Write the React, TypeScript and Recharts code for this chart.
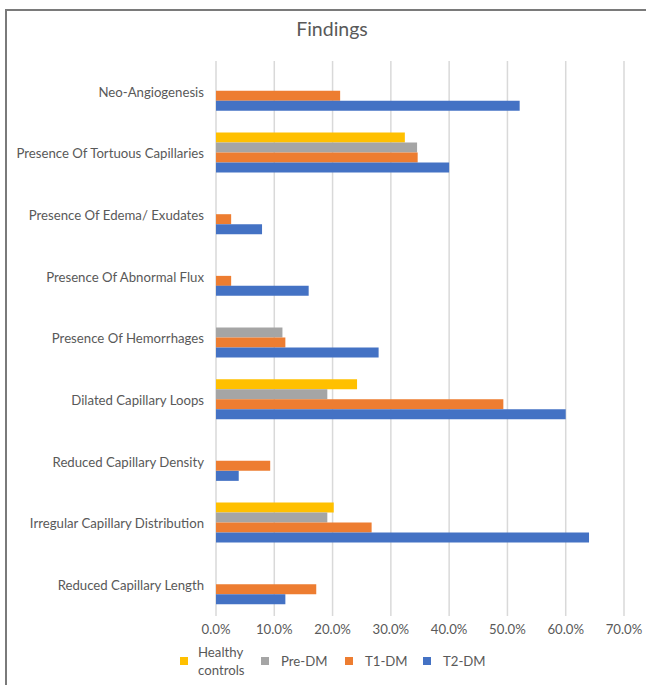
import React from "react";
import { BarChart, Bar, XAxis, YAxis, CartesianGrid } from "recharts";

// Capillaroscopy findings, share of each group (%)
const categories = [
  "Neo-Angiogenesis",
  "Presence Of Tortuous Capillaries",
  "Presence Of Edema/ Exudates",
  "Presence Of Abnormal Flux",
  "Presence Of Hemorrhages",
  "Dilated Capillary Loops",
  "Reduced Capillary Density",
  "Irregular Capillary Distribution",
  "Reduced Capillary Length",
];

const healthyControls = [null, 32.4, null, null, null, 24.2, null, 20.2, null];
const preDM = [null, 34.5, null, null, 11.4, 19.1, null, 19.1, null];
const t1DM = [21.3, 34.6, 2.6, 2.6, 11.9, 49.3, 9.3, 26.7, 17.2];
const t2DM = [52.1, 40.0, 7.9, 15.9, 27.9, 60.0, 3.9, 64.0, 11.9];

const xTicks = [0, 10, 20, 30, 40, 50, 60, 70];

const series = [
  { key: "healthy", name: "Healthy controls", color: "#FFC000", values: healthyControls },
  { key: "pre", name: "Pre-DM", color: "#A5A5A5", values: preDM },
  { key: "t1", name: "T1-DM", color: "#ED7D31", values: t1DM },
  { key: "t2", name: "T2-DM", color: "#4472C4", values: t2DM },
];

const data = categories.map((name, i) => {
  const row: Record<string, string | number | null> = { name };
  series.forEach((s) => {
    row[s.key] = s.values[i];
  });
  return row;
});

const FONT = "Lato, 'Open Sans', sans-serif";
const TEXT = "#595959";
const FS = 13.2;

// legend item x positions (square left edge)
const legendX = [180, 261, 345, 423];

export default function App() {
  return (
    <div
      style={{
        position: "absolute",
        left: 0,
        top: 0,
        width: 646,
        height: 685,
        background: "#fff",
        fontFamily: FONT,
        overflow: "hidden",
      }}
    >
      <div
        style={{
          position: "absolute",
          left: 5,
          top: 9,
          width: 641,
          height: 676,
          boxSizing: "border-box",
          borderTop: "2px solid #7a7a7a",
          borderLeft: "2px solid #7a7a7a",
        }}
      />
      <div
        style={{
          position: "absolute",
          left: 232,
          width: 200,
          top: 17,
          textAlign: "center",
          fontSize: 19.5,
          color: TEXT,
        }}
      >
        Findings
      </div>
      <div style={{ position: "absolute", left: 0, top: 0 }}>
        <BarChart
          width={646}
          height={685}
          data={data}
          layout="vertical"
          margin={{ top: 61, right: 22, bottom: 0, left: 0 }}
          barCategoryGap="16%"
          barGap={0}
        >
          <CartesianGrid horizontal={false} stroke="#d9d9d9" strokeWidth={1.5} />
          <XAxis
            type="number"
            domain={[0, 70]}
            ticks={xTicks}
            tickFormatter={(v: number) => `${v.toFixed(1)}%`}
            axisLine={false}
            tickLine={false}
            tickSize={0}
            tickMargin={9}
            height={69}
            interval={0}
            tick={{ fill: TEXT, fontSize: FS, fontFamily: FONT }}
          />
          <YAxis
            type="category"
            dataKey="name"
            width={216}
            axisLine={false}
            tickLine={false}
            tickSize={0}
            tickMargin={12}
            interval={0}
            tick={{ fill: TEXT, fontSize: FS, fontFamily: FONT }}
          />
          {series.map((s) => (
            <Bar
              key={s.key}
              dataKey={s.key}
              name={s.name}
              fill={s.color}
              isAnimationActive={false}
            />
          ))}
        </BarChart>
      </div>
      {series.map((s, i) => (
        <div
          key={s.key}
          style={{
            position: "absolute",
            left: legendX[i],
            top: 643,
            height: 36,
            display: "flex",
            alignItems: "center",
            fontSize: FS,
            color: TEXT,
          }}
        >
          <span
            style={{
              display: "inline-block",
              width: 8,
              height: 8,
              background: s.color,
              marginRight: i === 0 ? 10 : 12,
            }}
          />
          <span style={{ width: i === 0 ? 52 : "auto", lineHeight: "18px", whiteSpace: i === 0 ? "normal" : "nowrap" }}>
            {s.name}
          </span>
        </div>
      ))}
    </div>
  );
}
